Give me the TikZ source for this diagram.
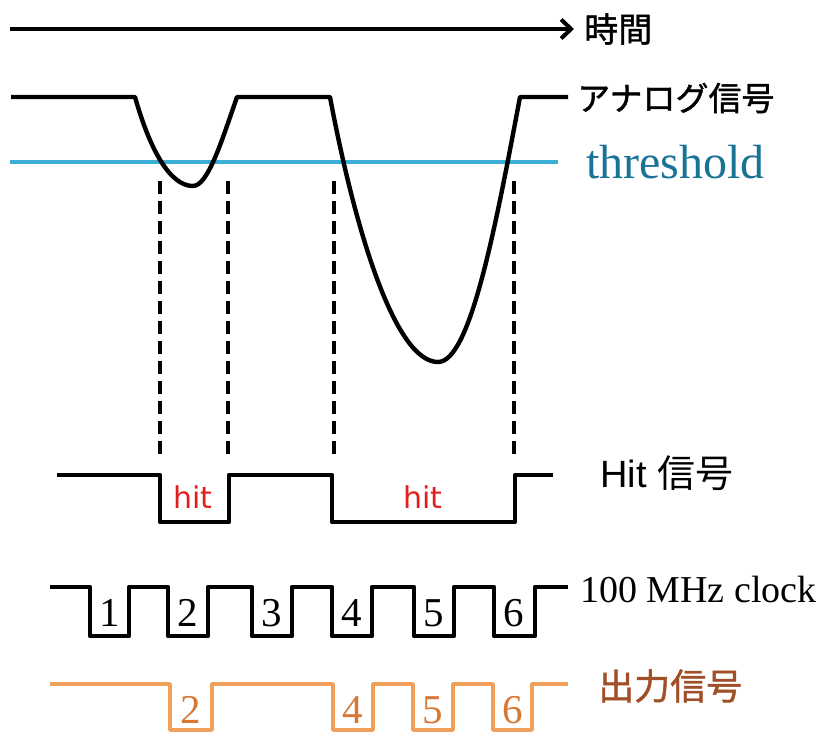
\documentclass[tikz,border=0pt]{standalone}
\usepackage{fontspec}
\usetikzlibrary{arrows.meta}
\newfontfamily\fjp[AutoFakeBold=1.2]{Noto Sans CJK JP}
\newfontfamily\fser{Liberation Serif}
\newfontfamily\fsans{Liberation Sans}
\newfontfamily\fdv{DejaVu Sans}
\definecolor{thrline}{RGB}{60,175,215}
\definecolor{thrtext}{RGB}{25,115,150}
\definecolor{outline}{RGB}{240,160,90}
\definecolor{outdigit}{RGB}{215,120,50}
\definecolor{outtext}{RGB}{160,80,40}
\definecolor{hitred}{RGB}{225,30,30}
\tikzset{
  sig/.style={line width=4.4pt, line join=round, line cap=butt},
  guide/.style={line width=3.8pt, dash pattern=on 13pt off 7pt},
  lab/.style={anchor=west, inner sep=0pt},
  clkdigit/.style={inner sep=0pt, font=\fser\fontsize{41}{44}\selectfont},
}
\begin{document}
\begin{tikzpicture}[x=1pt,y=-1pt]
\useasboundingbox (0,0) rectangle (822,734);
% time arrow
\coordinate (astart) at (10,29);
\coordinate (aend) at (574,29);
\draw[sig, -{Straight Barb[length=10pt,width=19pt,line width=4pt]}] (astart) -- (aend);
\node[lab, font=\fjp\bfseries\fontsize{34}{36}\selectfont] (time) at (584,29) {時間};
% threshold
\draw[line width=4.6pt, thrline] (10,162) -- (558,162);
\node[lab, font=\fser\fontsize{48}{52}\selectfont, text=thrtext] (thr) at (586,162) {threshold};
% analog signal
\draw[sig] (11,97) -- (135,97)
  .. controls (150,150) and (170,186) .. (193,186)
  .. controls (208,186) and (222,140) .. (237,97)
  -- (330,97)
  .. controls (355,230) and (395,362) .. (438,362)
  .. controls (470,362) and (495,230) .. (520,97)
  -- (568,97);
\node[lab, font=\fjp\bfseries\fontsize{33}{36}\selectfont] (ana) at (577,98) {アナログ信号};
% dashed guides
\foreach \x/\n in {160/a,228/b,334/c,514/d}{
  \draw[guide] (\x,181) -- (\x,460);
}
% hit signal
\draw[sig] (57,475) -- (160,475) -- (160,522) -- (229,522) -- (229,475)
  -- (332,475) -- (332,522) -- (515,522) -- (515,475) -- (553,475);
\node[inner sep=0pt, font=\fdv\fontsize{30}{32}\selectfont, text=hitred] (hit1) at (193,497) {hit};
\node[inner sep=0pt, font=\fdv\fontsize{30}{32}\selectfont, text=hitred] (hit2) at (423,497) {hit};
\node[lab] (hitlab) at (600,473) {\fsans\fontsize{38}{42}\selectfont Hit \fjp 信号};
% clock
\draw[sig] (50,587) -- (90,587) -- (90,636) -- (129,636) -- (129,587)
  -- (168,587) -- (168,636) -- (208,636) -- (208,587)
  -- (252,587) -- (252,636) -- (292,636) -- (292,587)
  -- (332,587) -- (332,636) -- (372,636) -- (372,587)
  -- (414,587) -- (414,636) -- (454,636) -- (454,587)
  -- (494,587) -- (494,636) -- (535,636) -- (535,587) -- (568,587);
\node[clkdigit] (c1) at (110,613) {1};
\node[clkdigit] (c2) at (188,613) {2};
\node[clkdigit] (c3) at (272,613) {3};
\node[clkdigit] (c4) at (352,613) {4};
\node[clkdigit] (c5) at (434,613) {5};
\node[clkdigit] (c6) at (514,613) {6};
\node[lab, font=\fser\fontsize{38}{42}\selectfont] (clk) at (580,589) {100 MHz clock};
% output
\draw[sig, line width=3.8pt, outline] (50,684) -- (170,684) -- (170,730) -- (212,730) -- (212,684)
  -- (333,684) -- (333,730) -- (373,730) -- (373,684)
  -- (413,684) -- (413,730) -- (453,730) -- (453,684)
  -- (493,684) -- (493,730) -- (532,730) -- (532,684) -- (568,684);
\node[clkdigit, text=outdigit] (o2) at (191,710) {2};
\node[clkdigit, text=outdigit] (o4) at (353,710) {4};
\node[clkdigit, text=outdigit] (o5) at (433,710) {5};
\node[clkdigit, text=outdigit] (o6) at (513,710) {6};
\node[lab, font=\fjp\bfseries\fontsize{36}{38}\selectfont, text=outtext] (out) at (598,686) {出力信号};
\end{tikzpicture}
\end{document}
